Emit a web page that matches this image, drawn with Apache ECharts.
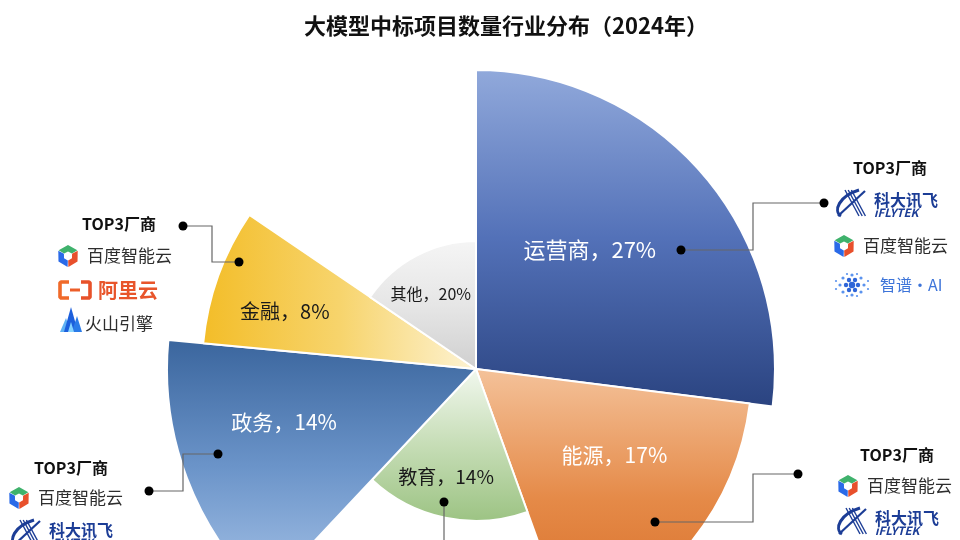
<!DOCTYPE html>
<html><head><meta charset="utf-8">
<script src="https://cdn.jsdelivr.net/npm/echarts@6/dist/echarts.min.js"></script>
<style>html,body{margin:0;padding:0;background:#fff}#c{width:960px;height:540px}</style>
</head><body><div id="c"></div>
<script>
// ---- data ----
const categories = ['运营商', '能源', '教育', '政务', '金融', '其他'];
const labelPercents = [27, 17, 14, 14, 8, 20];          // printed shares
const sectorShares = [27, 17.5, 17.5, 14.5, 8, 15.5];     // angular size as drawn
const vendorsTelecom = ['科大讯飞', '百度智能云', '智谱·AI'];
const vendorsEnergy = ['百度智能云', '科大讯飞'];
const vendorsGov = ['百度智能云', '科大讯飞'];
const vendorsFinance = ['百度智能云', '阿里云', '火山引擎'];
const groupTitle = 'TOP3厂商';
const chartTitle = '大模型中标项目数量行业分布（2024年）';

// ---- styles ----
const FF = '"Noto Sans CJK SC", "Noto Sans", sans-serif';
const CX = 476, CY = 369;
const radii = [299, 276, 152, 309, 274, 128];
const labelR = [162, 150, 105, 200, 198, 85];
const labelShift = [[-10, -10], [19, -10], [-8, 2], [-2, -19], [-2, 10], [-4, 3]];
const labelColor = ['#fff', '#fff', '#1a1a1a', '#fff', '#1a1a1a', '#1a1a1a'];
const labelSize = [22, 21, 19, 21, 20, 16];
const lg = (x, y, x2, y2, stops) => ({type: 'linear', x, y, x2, y2, colorStops: stops.map((c, i) => ({offset: i / (stops.length - 1), color: c}))});
const fills = [
  lg(0, 0, 0, 1, ['#91a9db', '#5371b8', '#2a4380']),
  lg(0, 0, 0, 1, ['#f4c29a', '#e58a48', '#d66a22']),
  lg(0, 0, 0, 1, ['#f2f8ef', '#c6ddb6', '#9cc383']),
  lg(0, 0, 0, 1, ['#3a659d', '#6b94c9', '#a8c4e8']),
  lg(0, 0, 1, 0, ['#f3bd28', '#f7d46c', '#fdf3d4']),
  lg(0, 0, 0, 1, ['#f5f5f5', '#e6e6e6', '#cfcfcf'])
];

const series = [];
categories.forEach((name, i) => {
  series.push({
    type: 'pie', center: [CX, CY], radius: [0, radii[i]], startAngle: 90, clockwise: true,
    silent: true, z: 2, label: {show: false}, labelLine: {show: false}, emphasis: {disabled: true},
    data: categories.map((n, j) => ({
      name: n, value: sectorShares[j],
      itemStyle: j === i ? {color: fills[i], borderColor: '#fff', borderWidth: 2} : {color: 'rgba(0,0,0,0)', borderWidth: 0}
    }))
  });
});
categories.forEach((name, i) => {
  series.push({
    type: 'pie', center: [CX, CY], radius: [0, labelR[i] * 2], startAngle: 90, clockwise: true,
    silent: true, z: 5, labelLine: {show: false}, emphasis: {disabled: true},
    labelLayout: () => ({dx: labelShift[i][0], dy: labelShift[i][1]}),
    data: categories.map((n, j) => ({
      name: n, value: sectorShares[j],
      itemStyle: {color: 'rgba(0,0,0,0)', borderWidth: 0},
      label: j === i ? {
        show: true, position: 'inside', formatter: n + '，' + labelPercents[j] + '%',
        color: labelColor[j], fontSize: labelSize[j], fontFamily: FF
      } : {show: false}
    }))
  });
});

// ---- annotation graphics ----
const G = [];
function txt(x, y, text, size, color, weight, align, style) {
  G.push({type: 'text', z: 100, style: Object.assign({
    x, y, text, fontSize: size, fontFamily: FF, fontWeight: weight || 'normal', fill: color,
    align: align || 'left', verticalAlign: 'middle', textAlign: align || 'left', textVerticalAlign: 'middle'
  }, style || {})});
}
function poly(points, fill) { G.push({type: 'polygon', z: 100, shape: {points}, style: {fill}}); }
function hp(cx, cy, R, d) { const a = d * Math.PI / 180; return [cx + R * Math.cos(a), cy + R * Math.sin(a)]; }
function logoBaidu(x, y, label) {
  const cx = x + 9, cy = y, R = 11, r = 4.6;
  const seg = (a, c) => poly([hp(cx, cy, R, a[0]), hp(cx, cy, R, a[1]), hp(cx, cy, R, a[2]), hp(cx, cy, r, a[2]), hp(cx, cy, r, a[1]), hp(cx, cy, r, a[0])], c);
  seg([212, 270, 328], '#3fb26c');
  seg([92, 150, 208], '#2a6ae8');
  seg([332, 390, 448], '#e8502c');
  txt(x + 28, y, label, 17, '#2e2e2e');
}
function logoIflytek(x, y, label) {
  const c = '#1c3d96';
  G.push({type: 'bezierCurve', z: 100, shape: {x1: x + 24, y1: y - 13, cpx1: x + 4, cpy1: y - 7, cpx2: x - 2, cpy2: y + 8, x2: x + 6, y2: y + 13}, style: {stroke: c, lineWidth: 3, fill: null}});
  G.push({type: 'line', z: 100, shape: {x1: x + 3, y1: y + 13, x2: x + 30, y2: y - 12}, style: {stroke: c, lineWidth: 2.2}});
  for (let k = 0; k < 3; k++) {
    G.push({type: 'line', z: 100, shape: {x1: x + 10 + k * 3.2, y1: y - 13, x2: x + 24 + k * 3.2, y2: y + 13}, style: {stroke: c, lineWidth: 1.4}});
  }
  txt(x + 39, y - 3, label, 16, c, 'bold');
  txt(x + 39, y + 10, 'iFLYTEK', 11.5, c, 'bold', 'left', {fontStyle: 'italic'});
}
function logoZhipu(x, y, label) {
  const cx = x + 17, cy = y;
  const dots = [[0, 0, 3.2], [6, 0, 2.2], [-6, 0, 2.2], [3, -5, 2.2], [-3, -5, 2.2], [3, 5, 2.2], [-3, 5, 2.2],
    [12, 0, 1.6], [-12, 0, 1.6], [9, -7, 1.6], [-9, -7, 1.6], [9, 7, 1.6], [-9, 7, 1.6], [0, -10, 1.6], [0, 10, 1.6],
    [16, -4, 1.1], [-16, -4, 1.1], [16, 4, 1.1], [-16, 4, 1.1], [5, -11, 1.1], [-5, -11, 1.1], [5, 11, 1.1], [-5, 11, 1.1]];
  dots.forEach(d => G.push({type: 'circle', z: 100, shape: {cx: cx + d[0], cy: cy + d[1], r: d[2]}, style: {fill: d[2] > 2 ? '#2f66d8' : '#5b93ee'}}));
  txt(x + 45, y, label, 16, '#3d74d9');
}
function logoAliyun(x, y, label) {
  G.push({type: 'polyline', z: 100, shape: {points: [[x + 11, y - 8], [x + 3, y - 8], [x + 2, y - 7], [x + 2, y + 7], [x + 3, y + 8], [x + 11, y + 8]]}, style: {stroke: '#f06a2a', lineWidth: 3.6, fill: null, lineJoin: 'round'}});
  G.push({type: 'polyline', z: 100, shape: {points: [[x + 23, y - 8], [x + 31, y - 8], [x + 32, y - 7], [x + 32, y + 7], [x + 31, y + 8], [x + 23, y + 8]]}, style: {stroke: '#e8522a', lineWidth: 3.6, fill: null, lineJoin: 'round'}});
  G.push({type: 'rect', z: 100, shape: {x: x + 12, y: y - 1.5, width: 10, height: 3}, style: {fill: '#ec5e2a'}});
  txt(x + 40, y, label, 20, '#e8552b', 'bold');
}
function logoHuoshan(x, y, label) {
  const b = y + 12;
  poly([[x, b], [x + 6, y - 2], [x + 11, b]], '#5fb2f4');
  poly([[x + 4, b], [x + 11, y - 13], [x + 18, b]], '#1c5fdc');
  poly([[x + 12, b], [x + 17, y - 4], [x + 22, b]], '#2a7be8');
  poly([[x + 8, b], [x + 11, y + 2], [x + 14, b]], '#86d4ff');
  txt(x + 25, y + 4, label, 17, '#2e2e2e');
}
const logoFns = {'百度智能云': logoBaidu, '科大讯飞': logoIflytek, '智谱·AI': logoZhipu, '阿里云': logoAliyun, '火山引擎': logoHuoshan};
function group(titleX, titleY, vendors, rows) {
  txt(titleX, titleY, groupTitle, 16, '#111', 'bold', 'center');
  vendors.forEach((v, i) => logoFns[v](rows[i][0], rows[i][1], v));
}
group(890, 168, vendorsTelecom, [[835, 203], [835, 246], [835, 285]]);
group(119, 224, vendorsFinance, [[59, 256], [58, 290], [60, 320]]);
group(71, 468, vendorsGov, [[10, 498], [10, 533]]);
group(897, 455, vendorsEnergy, [[839, 486], [836, 521]]);

function callout(pts, endDot) {
  G.push({type: 'polyline', z: 90, shape: {points: pts}, style: {stroke: '#666', lineWidth: 1.2, fill: null}});
  const ds = endDot === false ? [pts[0]] : [pts[0], pts[pts.length - 1]];
  ds.forEach(p => G.push({type: 'circle', z: 91, shape: {cx: p[0], cy: p[1], r: 4.5}, style: {fill: '#000'}}));
}
callout([[681, 250], [753, 250], [753, 203], [824, 203]]);
callout([[239, 262], [212, 262], [212, 226], [183, 226]]);
callout([[218, 454], [183, 454], [183, 491], [149, 491]]);
callout([[655, 522], [753, 522], [753, 474], [798, 474]]);
callout([[444, 502], [444, 545]], false);

const chart = echarts.init(document.getElementById('c'));
chart.setOption({
  animation: false,
  backgroundColor: '#fff',
  title: {text: chartTitle, left: 501, top: 10, textAlign: 'center',
    textStyle: {fontSize: 22, fontWeight: 'bold', color: '#111', fontFamily: FF}},
  series,
  graphic: {elements: G}
});
</script></body></html>
